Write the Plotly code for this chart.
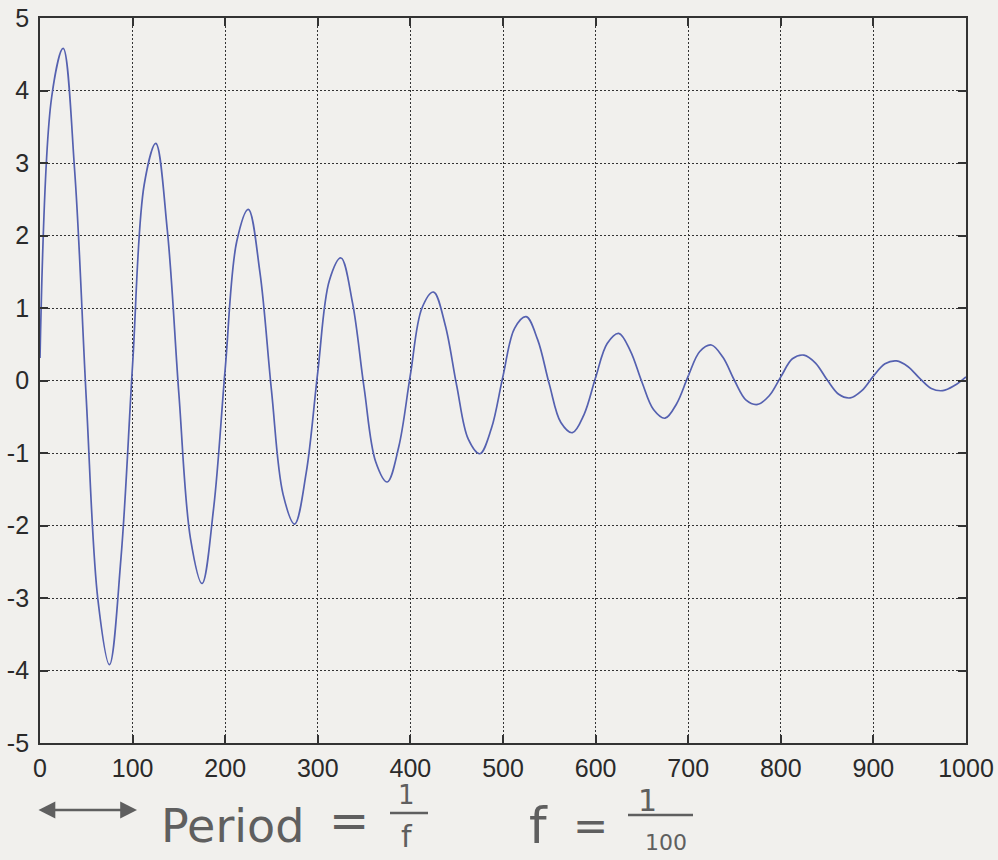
import plotly.graph_objects as go

# Sample positions (x) and values
x_vals = [i * 12.5 for i in range(81)]
y_vals = [
    0.31, 3.90, 4.58, 2.88, -0.26, -3.02, -3.92, -2.44,
    0.22, 2.70, 3.27, 2.07, -0.19, -2.18, -2.80, -1.76,
    0.16, 1.92, 2.36, 1.49, -0.14, -1.57, -1.98, -1.27,
    0.12, 1.38, 1.69, 1.07, -0.10, -1.12, -1.40, -0.91,
    0.08, 1.00, 1.22, 0.77, -0.07, -0.81, -1.01, -0.66,
    0.06, 0.72, 0.88, 0.56, -0.05, -0.58, -0.72, -0.47,
    0.04, 0.51, 0.65, 0.41, -0.02, -0.40, -0.52, -0.32,
    0.06, 0.40, 0.49, 0.32, 0.00, -0.27, -0.33, -0.21,
    0.05, 0.30, 0.35, 0.24, 0.01, -0.19, -0.24, -0.14,
    0.06, 0.23, 0.27, 0.19, 0.03, -0.11, -0.14, -0.07,
    0.05,
]
x_ticks = [0, 100, 200, 300, 400, 500, 600, 700, 800, 900, 1000]
y_ticks = [-5, -4, -3, -2, -1, 0, 1, 2, 3, 4, 5]

W, H = 998, 860
ML, MR, MT, MB = 40, 32, 18, 117
PW, PH = W - ML - MR, H - MT - MB

def px(xp):
    return (xp - ML) / PW

def py(yp):
    return (H - MB - yp) / PH

BG = "#f1f0ed"
AX = "#333333"
INK = "#5f5f5f"

fig = go.Figure()
fig.add_trace(go.Scatter(
    x=x_vals, y=y_vals, mode="lines",
    line=dict(color="#5561b0", width=1.7, shape="spline", smoothing=1.0),
    hoverinfo="skip",
))

axis_common = dict(
    showgrid=True, gridcolor=AX, gridwidth=1.3, griddash="2px,2px",
    showline=True, linecolor=AX, linewidth=1.8, mirror="ticks",
    ticks="inside", ticklen=8, tickcolor=AX, tickwidth=1.5,
    zeroline=False, automargin=False,
    tickfont=dict(family="Liberation Sans, Arial, sans-serif", size=25, color="#2a2a2a"),
)

fig.update_xaxes(range=[0, 1000], tickvals=x_ticks, ticktext=[str(v) for v in x_ticks],
                 ticklabelstandoff=2, **axis_common)
fig.update_yaxes(range=[-5, 5], tickvals=y_ticks, ticktext=[str(v) for v in y_ticks],
                 ticklabelstandoff=4, **axis_common)

hand = dict(family="DejaVu Sans, sans-serif", color=INK)

def txt(x, y, s, size):
    return dict(xref="paper", yref="paper", x=px(x), y=py(y), text=s,
                showarrow=False, xanchor="center", yanchor="middle",
                font=dict(size=size, **hand))

ann = [
    # double-headed arrow
    dict(xref="paper", yref="paper", x=px(137), y=py(810), ax=-100, ay=0,
         text="", showarrow=True, arrowhead=2, arrowside="end+start",
         arrowsize=1.4, arrowwidth=2.4, arrowcolor=INK),
    txt(232, 826, "Period", 46),
    txt(349, 820, "=", 48),
    txt(406, 795, "1", 26),
    txt(407, 836, "f", 30),
    txt(538, 826, "f", 50),
    txt(590, 825, "=", 42),
    txt(647, 800, "1", 30),
    txt(666, 842, "100", 22),
]

shapes = [
    dict(type="line", xref="paper", yref="paper", x0=px(390), x1=px(428), y0=py(813), y1=py(813),
         line=dict(color=INK, width=2.5)),
    dict(type="line", xref="paper", yref="paper", x0=px(628), x1=px(693), y0=py(815), y1=py(815),
         line=dict(color=INK, width=2.5)),
]

fig.update_layout(
    width=W, height=H,
    margin=dict(l=ML, r=MR, t=MT, b=MB, autoexpand=False),
    paper_bgcolor=BG, plot_bgcolor=BG,
    showlegend=False,
    annotations=ann, shapes=shapes,
)

fig.write_html(
    "out.html",
    config={"displayModeBar": False},
    post_script="document.body.style.margin='0';document.body.style.overflow='hidden';document.body.style.background='%s';" % BG,
)
